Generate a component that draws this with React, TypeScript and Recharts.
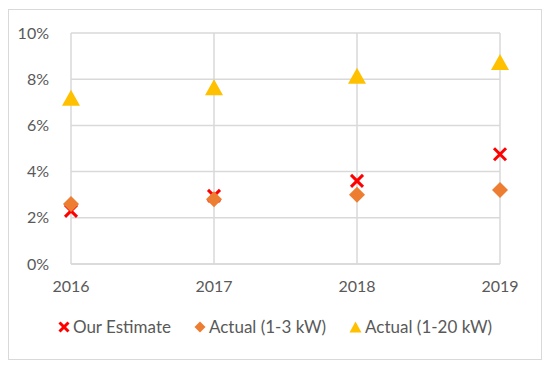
import { ScatterChart, Scatter, XAxis, YAxis, CartesianGrid, Legend } from 'recharts'

const years = [2016, 2017, 2018, 2019]
const ourEstimate = [2.3, 2.95, 3.6, 4.75]
const actualSmall = [2.6, 2.8, 3.0, 3.2]
const actualLarge = [7.2, 7.65, 8.15, 8.75]
const yTicks = [0, 2, 4, 6, 8, 10]

const RED = '#ff0000'
const ORANGE = '#ed7d31'
const GOLD = '#ffc000'
const TEXT = '#595959'
const GRID = '#d9d9d9'
const FONT = 'Lato, "Open Sans", sans-serif'

const toPoints = (vals: number[]) => years.map((year, i) => ({ year, value: vals[i] }))

const CrossShape = (props: any) => {
  const { cx, cy } = props
  const s = 6
  return (
    <g>
      <line x1={cx - s} y1={cy - s} x2={cx + s} y2={cy + s} stroke={RED} strokeWidth={3} />
      <line x1={cx - s} y1={cy + s} x2={cx + s} y2={cy - s} stroke={RED} strokeWidth={3} />
    </g>
  )
}

const DiamondShape = (props: any) => {
  const { cx, cy } = props
  const s = 8
  return <polygon points={`${cx},${cy - s} ${cx + s},${cy} ${cx},${cy + s} ${cx - s},${cy}`} fill={ORANGE} />
}

const TriangleShape = (props: any) => {
  const { cx, cy } = props
  const w = 9
  const h = 16
  return <polygon points={`${cx},${cy - h / 2} ${cx + w},${cy + h / 2} ${cx - w},${cy + h / 2}`} fill={GOLD} />
}

const legendItems = [
  { name: 'Our Estimate', kind: 'x' },
  { name: 'Actual (1-3 kW)', kind: 'diamond' },
  { name: 'Actual (1-20 kW)', kind: 'triangle' },
]

function LegendIcon({ kind }: { kind: string }) {
  if (kind === 'x') {
    return (
      <svg width={12} height={12} style={{ marginRight: 3 }}>
        <line x1={1.5} y1={1.5} x2={10.5} y2={10.5} stroke={RED} strokeWidth={3} />
        <line x1={1.5} y1={10.5} x2={10.5} y2={1.5} stroke={RED} strokeWidth={3} />
      </svg>
    )
  }
  if (kind === 'diamond') {
    return (
      <svg width={12} height={12} style={{ marginRight: 3 }}>
        <polygon points="6,0.5 11.5,6 6,11.5 0.5,6" fill={ORANGE} />
      </svg>
    )
  }
  return (
    <svg width={13} height={12} style={{ marginRight: 3 }}>
      <polygon points="6.5,0.5 12.5,11.5 0.5,11.5" fill={GOLD} />
    </svg>
  )
}

function ChartLegend() {
  return (
    <div style={{ display: 'flex', justifyContent: 'center', alignItems: 'center', gap: 23, fontFamily: FONT, fontSize: 17, color: TEXT }}>
      {legendItems.map((item) => (
        <div key={item.name} style={{ display: 'flex', alignItems: 'center' }}>
          <LegendIcon kind={item.kind} />
          <span>{item.name}</span>
        </div>
      ))}
    </div>
  )
}

export default function App() {
  return (
    <div
      style={{
        width: 532,
        height: 349,
        border: `1px solid ${GRID}`,
        background: '#fff',
        marginTop: 1,
      }}
    >
      <ScatterChart width={532} height={349} margin={{ top: 23, right: 41, bottom: 42, left: 0 }}>
        <CartesianGrid stroke={GRID} strokeWidth={1.5} />
        <XAxis
          type="number"
          dataKey="year"
          domain={[2016, 2019]}
          ticks={years}
          axisLine={{ stroke: GRID, strokeWidth: 1.5 }}
          tickLine={false}
          tick={{ fill: TEXT, fontSize: 16, fontFamily: FONT }}
          tickMargin={11}
          height={32}
        />
        <YAxis
          type="number"
          dataKey="value"
          domain={[0, 10]}
          ticks={yTicks}
          tickFormatter={(v: number) => `${v}%`}
          axisLine={false}
          tickLine={false}
          tick={{ fill: TEXT, fontSize: 16, fontFamily: FONT }}
          tickMargin={16}
          width={62}
        />
        <Legend
          verticalAlign="bottom"
          content={() => <ChartLegend />}
          wrapperStyle={{ bottom: 22, left: 0, width: 532 }}
        />
        <Scatter name="Our Estimate" data={toPoints(ourEstimate)} shape={CrossShape} isAnimationActive={false} />
        <Scatter name="Actual (1-3 kW)" data={toPoints(actualSmall)} shape={DiamondShape} isAnimationActive={false} />
        <Scatter name="Actual (1-20 kW)" data={toPoints(actualLarge)} shape={TriangleShape} isAnimationActive={false} />
      </ScatterChart>
    </div>
  )
}
